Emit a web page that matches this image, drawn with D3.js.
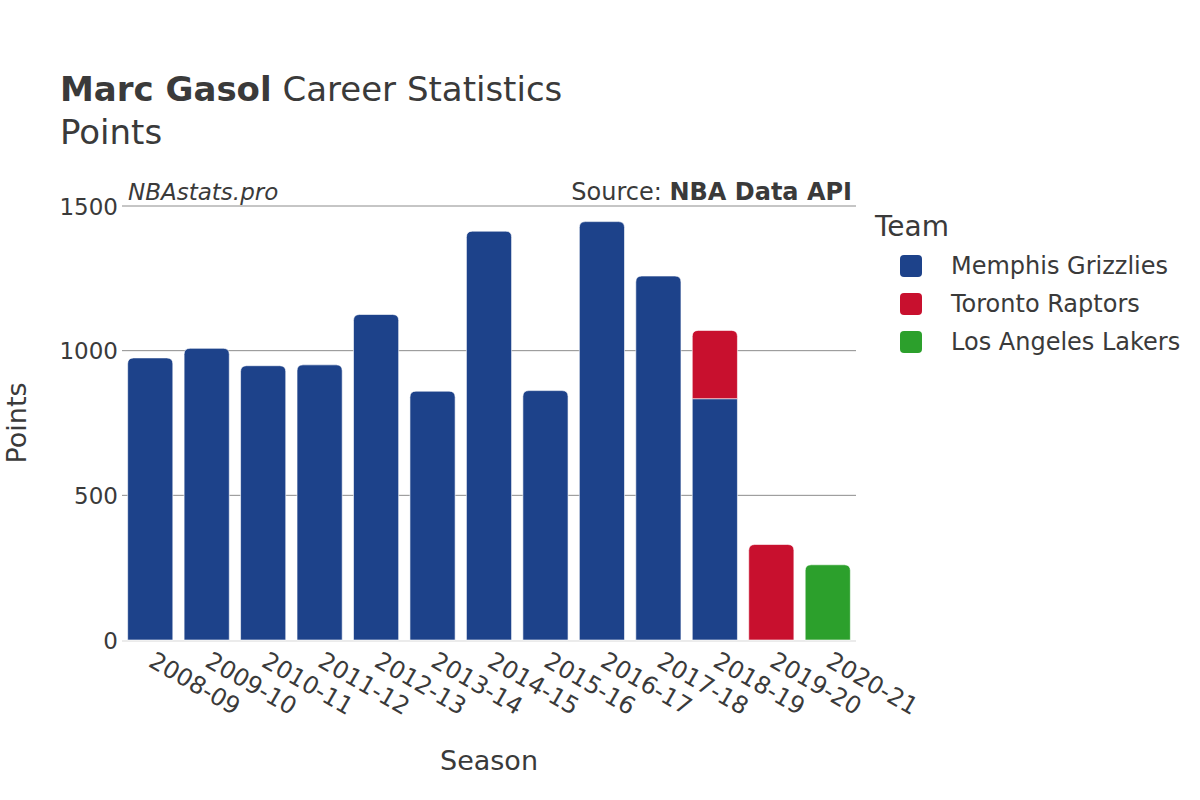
<!DOCTYPE html>
<html>
<head>
<meta charset="utf-8">
<script src="https://cdn.jsdelivr.net/npm/d3@7.9.0/dist/d3.min.js"></script>
<style>
  body { margin: 0; background: #fff; }
  svg text { font-family: "DejaVu Sans", sans-serif; fill: #3a3a3a; }
</style>
</head>
<body>
<svg id="chart" width="1200" height="800"></svg>
<script>
// Season labels on the x axis
const seasons = ["2008-09", "2009-10", "2010-11", "2011-12", "2012-13", "2013-14",
    "2014-15", "2015-16", "2016-17", "2017-18", "2018-19", "2019-20", "2020-21"];

// Points per team, per season (0 when he did not play there)
const teams = ["Memphis Grizzlies", "Toronto Raptors", "Los Angeles Lakers"];
const memphis = [975, 1008, 948, 951, 1125, 860, 1413, 862, 1446, 1258, 834, 0, 0];
const toronto = [0, 0, 0, 0, 0, 0, 0, 0, 0, 0, 236, 330, 0];
const lakers = [0, 0, 0, 0, 0, 0, 0, 0, 0, 0, 0, 0, 260];
const teamColors = ["#1d428a", "#c8102e", "#2ca02c"];

const yTicks = [0, 500, 1000, 1500];

const svg = d3.select("#chart");
const margin = { left: 122, right: 856, top: 206, bottom: 640 };

const x = d3.scaleBand().domain(seasons)
    .range([margin.left, margin.right]).paddingInner(0.2).paddingOuter(0.1);
const y = d3.scaleLinear().domain([0, 1500]).range([margin.bottom, margin.top]);
const color = d3.scaleOrdinal().domain(teams).range(teamColors);

// table for stacking
let rows = seasons.map((s, i) => ({
    season: s,
    "Memphis Grizzlies": memphis[i],
    "Toronto Raptors": toronto[i],
    "Los Angeles Lakers": lakers[i]
}));
let stacked = d3.stack().keys(teams)(rows);

// gridlines
svg.append("g")
    .selectAll("line")
    .data(yTicks.filter(d => d > 0))
    .join("line")
    .attr("x1", margin.left).attr("x2", margin.right)
    .attr("y1", d => y(d)).attr("y2", d => y(d))
    .attr("stroke", "#8c8c8c").attr("stroke-width", 1);

// zero line
svg.append("line")
    .attr("x1", margin.left).attr("x2", margin.right)
    .attr("y1", y(0) + 1).attr("y2", y(0) + 1)
    .attr("stroke", "#ebebeb").attr("stroke-width", 2);

// top segment of each bar gets rounded top corners
function topKey(i) {
    let k = -1;
    teams.forEach((t, j) => { if (rows[i][t] > 0) k = j; });
    return k;
}

function barPath(x0, y0, w, y1, r) {
    // y0 = top, y1 = bottom
    r = Math.min(r, (y1 - y0) / 2, w / 2);
    return `M${x0},${y1}V${y0 + r}Q${x0},${y0} ${x0 + r},${y0}H${x0 + w - r}Q${x0 + w},${y0} ${x0 + w},${y0 + r}V${y1}Z`;
}

stacked.forEach((layer, j) => {
    svg.append("g")
        .selectAll("path")
        .data(layer.map((d, i) => ({ d, i })).filter(o => o.d[1] - o.d[0] > 0))
        .join("path")
        .attr("d", o => {
            let top = y(o.d[1]), bot = y(o.d[0]);
            let r = topKey(o.i) === j ? 6 : 0;
            return barPath(x(seasons[o.i]), top, x.bandwidth(), bot, r);
        })
        .attr("fill", color(teams[j]))
        .attr("stroke", "#ffffff")
        .attr("stroke-opacity", 0.6)
        .attr("stroke-width", 1);
});

// y axis
const yAxis = d3.axisLeft(y).tickValues(yTicks).tickFormat(d3.format("d")).tickSize(0).tickPadding(4);
svg.append("g")
    .attr("transform", `translate(${margin.left},0)`)
    .call(yAxis)
    .call(g => g.select(".domain").remove())
    .selectAll("text")
    .style("font-size", "23px")
    .attr("fill", "#3a3a3a")
    .attr("dy", "0.35em");

// x axis
const xAxis = d3.axisBottom(x).tickSize(0).tickPadding(0);
svg.append("g")
    .attr("transform", `translate(0,${margin.bottom + 10})`)
    .call(xAxis)
    .call(g => g.select(".domain").remove())
    .selectAll("text")
    .style("font-size", "24px")
    .attr("fill", "#3a3a3a")
    .attr("text-anchor", "start")
    .attr("dy", "0.75em")
    .attr("transform", "translate(6,0) rotate(30)");

// titles
let title = svg.append("text").attr("x", 60).attr("y", 101).style("font-size", "34px");
title.append("tspan").attr("font-weight", "bold").text("Marc Gasol");
title.append("tspan").text(" Career Statistics");
svg.append("text").attr("x", 60).attr("y", 144).style("font-size", "34px").text("Points");

svg.append("text").attr("x", 128).attr("y", 200)
    .style("font-size", "23px").style("font-style", "italic").text("NBAstats.pro");
let src = svg.append("text").attr("x", 852).attr("y", 200)
    .attr("text-anchor", "end").style("font-size", "24px");
src.append("tspan").text("Source: ");
src.append("tspan").attr("font-weight", "bold").text("NBA Data API");

svg.append("text").attr("x", 489).attr("y", 770)
    .attr("text-anchor", "middle").style("font-size", "27px").text("Season");
svg.append("text")
    .attr("transform", `translate(26,${y(750)}) rotate(-90)`)
    .attr("text-anchor", "middle").style("font-size", "27px").text("Points");

// legend
const legend = svg.append("g");
legend.append("text").attr("x", 875).attr("y", 236).style("font-size", "28px").text("Team");
teams.forEach((t, i) => {
    let cy = 266 + i * 38;
    legend.append("rect")
        .attr("x", 900).attr("y", cy - 11).attr("width", 22).attr("height", 22)
        .attr("rx", 4).attr("fill", color(t));
    legend.append("text")
        .attr("x", 951).attr("y", cy).attr("dy", "0.35em")
        .style("font-size", "24px").text(t);
});
</script>
</body>
</html>
